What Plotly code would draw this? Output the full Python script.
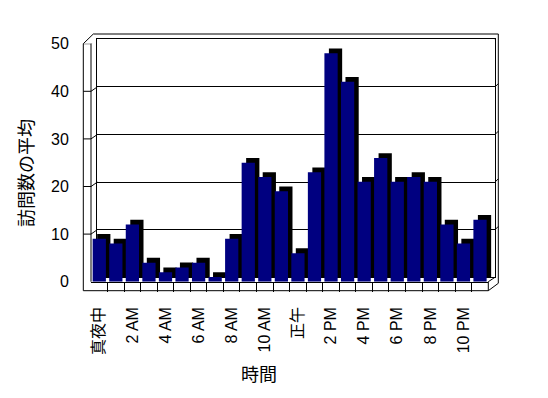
import plotly.graph_objects as go

# ---- data ----
hours = list(range(24))
visits = [9, 8, 12, 4, 2, 3, 4, 1, 9, 25, 22, 19, 6, 23, 48, 42, 21, 26, 21, 22, 21, 12, 8, 13]
tick_hours = [0, 2, 4, 6, 8, 10, 12, 14, 16, 18, 20, 22]
tick_labels = ['真夜中', '2 AM', '4 AM', '6 AM', '8 AM', '10 AM', '正午',
               '2 PM', '4 PM', '6 PM', '8 PM', '10 PM']
y_ticks = [0, 10, 20, 30, 40, 50]
y_title = '訪問数の平均'
x_title = '時間'

# ---- geometry helpers (pixel -> paper) ----
W, H = 548, 398
def px(x):
    return x / W
def py(y):
    return 1 - y / H

FRONT_L, FRONT_R = 91.0, 488.3
FRONT_Y0, FRONT_Y50 = 281.7, 43.7
BACK_L, BACK_R = 97.3, 495.0
BACK_Y0, BACK_Y50 = 277.3, 39.3
DX, DY = 4.5, 4.8          # bar depth offset
OUT_L, OUT_R, OUT_TOP, OUT_BOT = 83.3, 498.3, 34.0, 290.7

FONT = "Liberation Sans, Noto Sans CJK JP, sans-serif"
NAVY = "#000080"

fig = go.Figure()
fig.add_trace(go.Bar(x=hours, y=visits, xaxis='x2', yaxis='y2', width=0.8,
                     marker=dict(color='black', line=dict(width=0)),
                     hoverinfo='skip', showlegend=False))
fig.add_trace(go.Bar(x=hours, y=visits, xaxis='x3', yaxis='y3', width=0.8,
                     marker=dict(color=NAVY, line=dict(width=0)),
                     showlegend=False))

shapes = []
def seg(x0, y0, x1, y1):
    shapes.append(dict(type='line', xref='paper', yref='paper',
                       x0=px(x0), y0=py(y0), x1=px(x1), y1=py(y1),
                       line=dict(color='black', width=1), layer='below'))

# walls & floor outline
seg(OUT_L, FRONT_Y50, OUT_L, OUT_BOT)
seg(OUT_L, FRONT_Y50, 93.3, OUT_TOP)
seg(93.3, OUT_TOP, OUT_R, OUT_TOP)
seg(OUT_R, OUT_TOP, OUT_R, 283.3)
seg(FRONT_R, OUT_BOT, OUT_R, 283.3)
seg(OUT_L, OUT_BOT, FRONT_R, OUT_BOT)
seg(FRONT_R, FRONT_Y0, FRONT_R, OUT_BOT)
seg(FRONT_R, FRONT_Y0, BACK_R, BACK_Y0)
seg(FRONT_L, FRONT_Y50, FRONT_L, FRONT_Y0)

# wall ticks at each value
for v in y_ticks[1:]:
    shapes.append(dict(type='line', xref='paper', yref='y3',
                       x0=px(OUT_L), x1=px(FRONT_L), y0=v, y1=v,
                       line=dict(color='black', width=1), layer='below'))
    shapes.append(dict(type='line', xref='paper', yref='y3', ysizemode='pixel',
                       yanchor=v, x0=px(FRONT_L), x1=px(BACK_L), y0=0,
                       y1=FRONT_Y0 - BACK_Y0,
                       line=dict(color='black', width=1), layer='below'))
    shapes.append(dict(type='line', xref='paper', yref='y', ysizemode='pixel',
                       yanchor=v, x0=px(BACK_R), x1=px(OUT_R), y0=0, y1=3.3,
                       line=dict(color='black', width=1), layer='below'))

fig.update_layout(
    width=W, height=H, autosize=False,
    margin=dict(l=0, r=0, t=0, b=0, pad=0, autoexpand=False),
    paper_bgcolor='white', plot_bgcolor='rgba(0,0,0,0)',
    font=dict(family=FONT, size=16, color='black'),
    showlegend=False, bargap=0.2,
    xaxis=dict(domain=[px(BACK_L), px(BACK_R)], range=[-0.5, 23.5], anchor='y',
               showgrid=False, zeroline=False, showline=True, mirror=True,
               linecolor='black', linewidth=1, ticks='', showticklabels=False,
               automargin=False),
    yaxis=dict(domain=[py(BACK_Y0), py(BACK_Y50)], range=[0, 50], anchor='x',
               tickmode='array', tickvals=y_ticks, showgrid=True, gridcolor='black',
               gridwidth=1, zeroline=False, showline=True, mirror=True,
               linecolor='black', linewidth=1, ticks='', showticklabels=False,
               automargin=False),
    xaxis2=dict(domain=[px(FRONT_L + DX), px(FRONT_R + DX)], range=[-0.5, 23.5],
                anchor='y2', visible=False, automargin=False),
    yaxis2=dict(domain=[py(FRONT_Y0 - DY), py(FRONT_Y50 - DY)], range=[0, 50],
                anchor='x2', visible=False, automargin=False),
    xaxis3=dict(domain=[px(FRONT_L), px(FRONT_R)], range=[-0.5, 23.5], anchor='y3',
                tickmode='array', tickvals=tick_hours, ticktext=tick_labels,
                tickangle=-90, ticks='outside', ticklen=18,
                tickcolor='rgba(0,0,0,0)', showgrid=False, zeroline=False,
                showline=True, linecolor='black', linewidth=1, automargin=False,
                tickfont=dict(family=FONT, size=16, color='black'),
                minor=dict(ticks='outside', tickmode='array',
                           tickvals=[h + 0.5 for h in hours[:-1]],
                           ticklen=9, tickwidth=1, tickcolor='black',
                           showgrid=False)),
    yaxis3=dict(domain=[py(FRONT_Y0), py(FRONT_Y50)], range=[0, 50], anchor='x3',
                tickmode='array', tickvals=y_ticks, ticks='outside', ticklen=18,
                tickcolor='rgba(0,0,0,0)', showgrid=False, zeroline=False,
                showline=False, automargin=False,
                tickfont=dict(family=FONT, size=16, color='black')),
    shapes=shapes,
    annotations=[
        dict(text=y_title, xref='paper', yref='paper', x=px(27), y=py(173),
             textangle=-90, showarrow=False, xanchor='center', yanchor='middle',
             font=dict(family=FONT, size=18, color='black')),
        dict(text=x_title, xref='paper', yref='paper', x=px(259), y=py(375),
             showarrow=False, xanchor='center', yanchor='middle',
             font=dict(family=FONT, size=18, color='black')),
    ],
)

fig.write_html("out.html", config={'responsive': False, 'displayModeBar': False},
               post_script="document.body.style.margin='0px';document.body.style.padding='0px';")
